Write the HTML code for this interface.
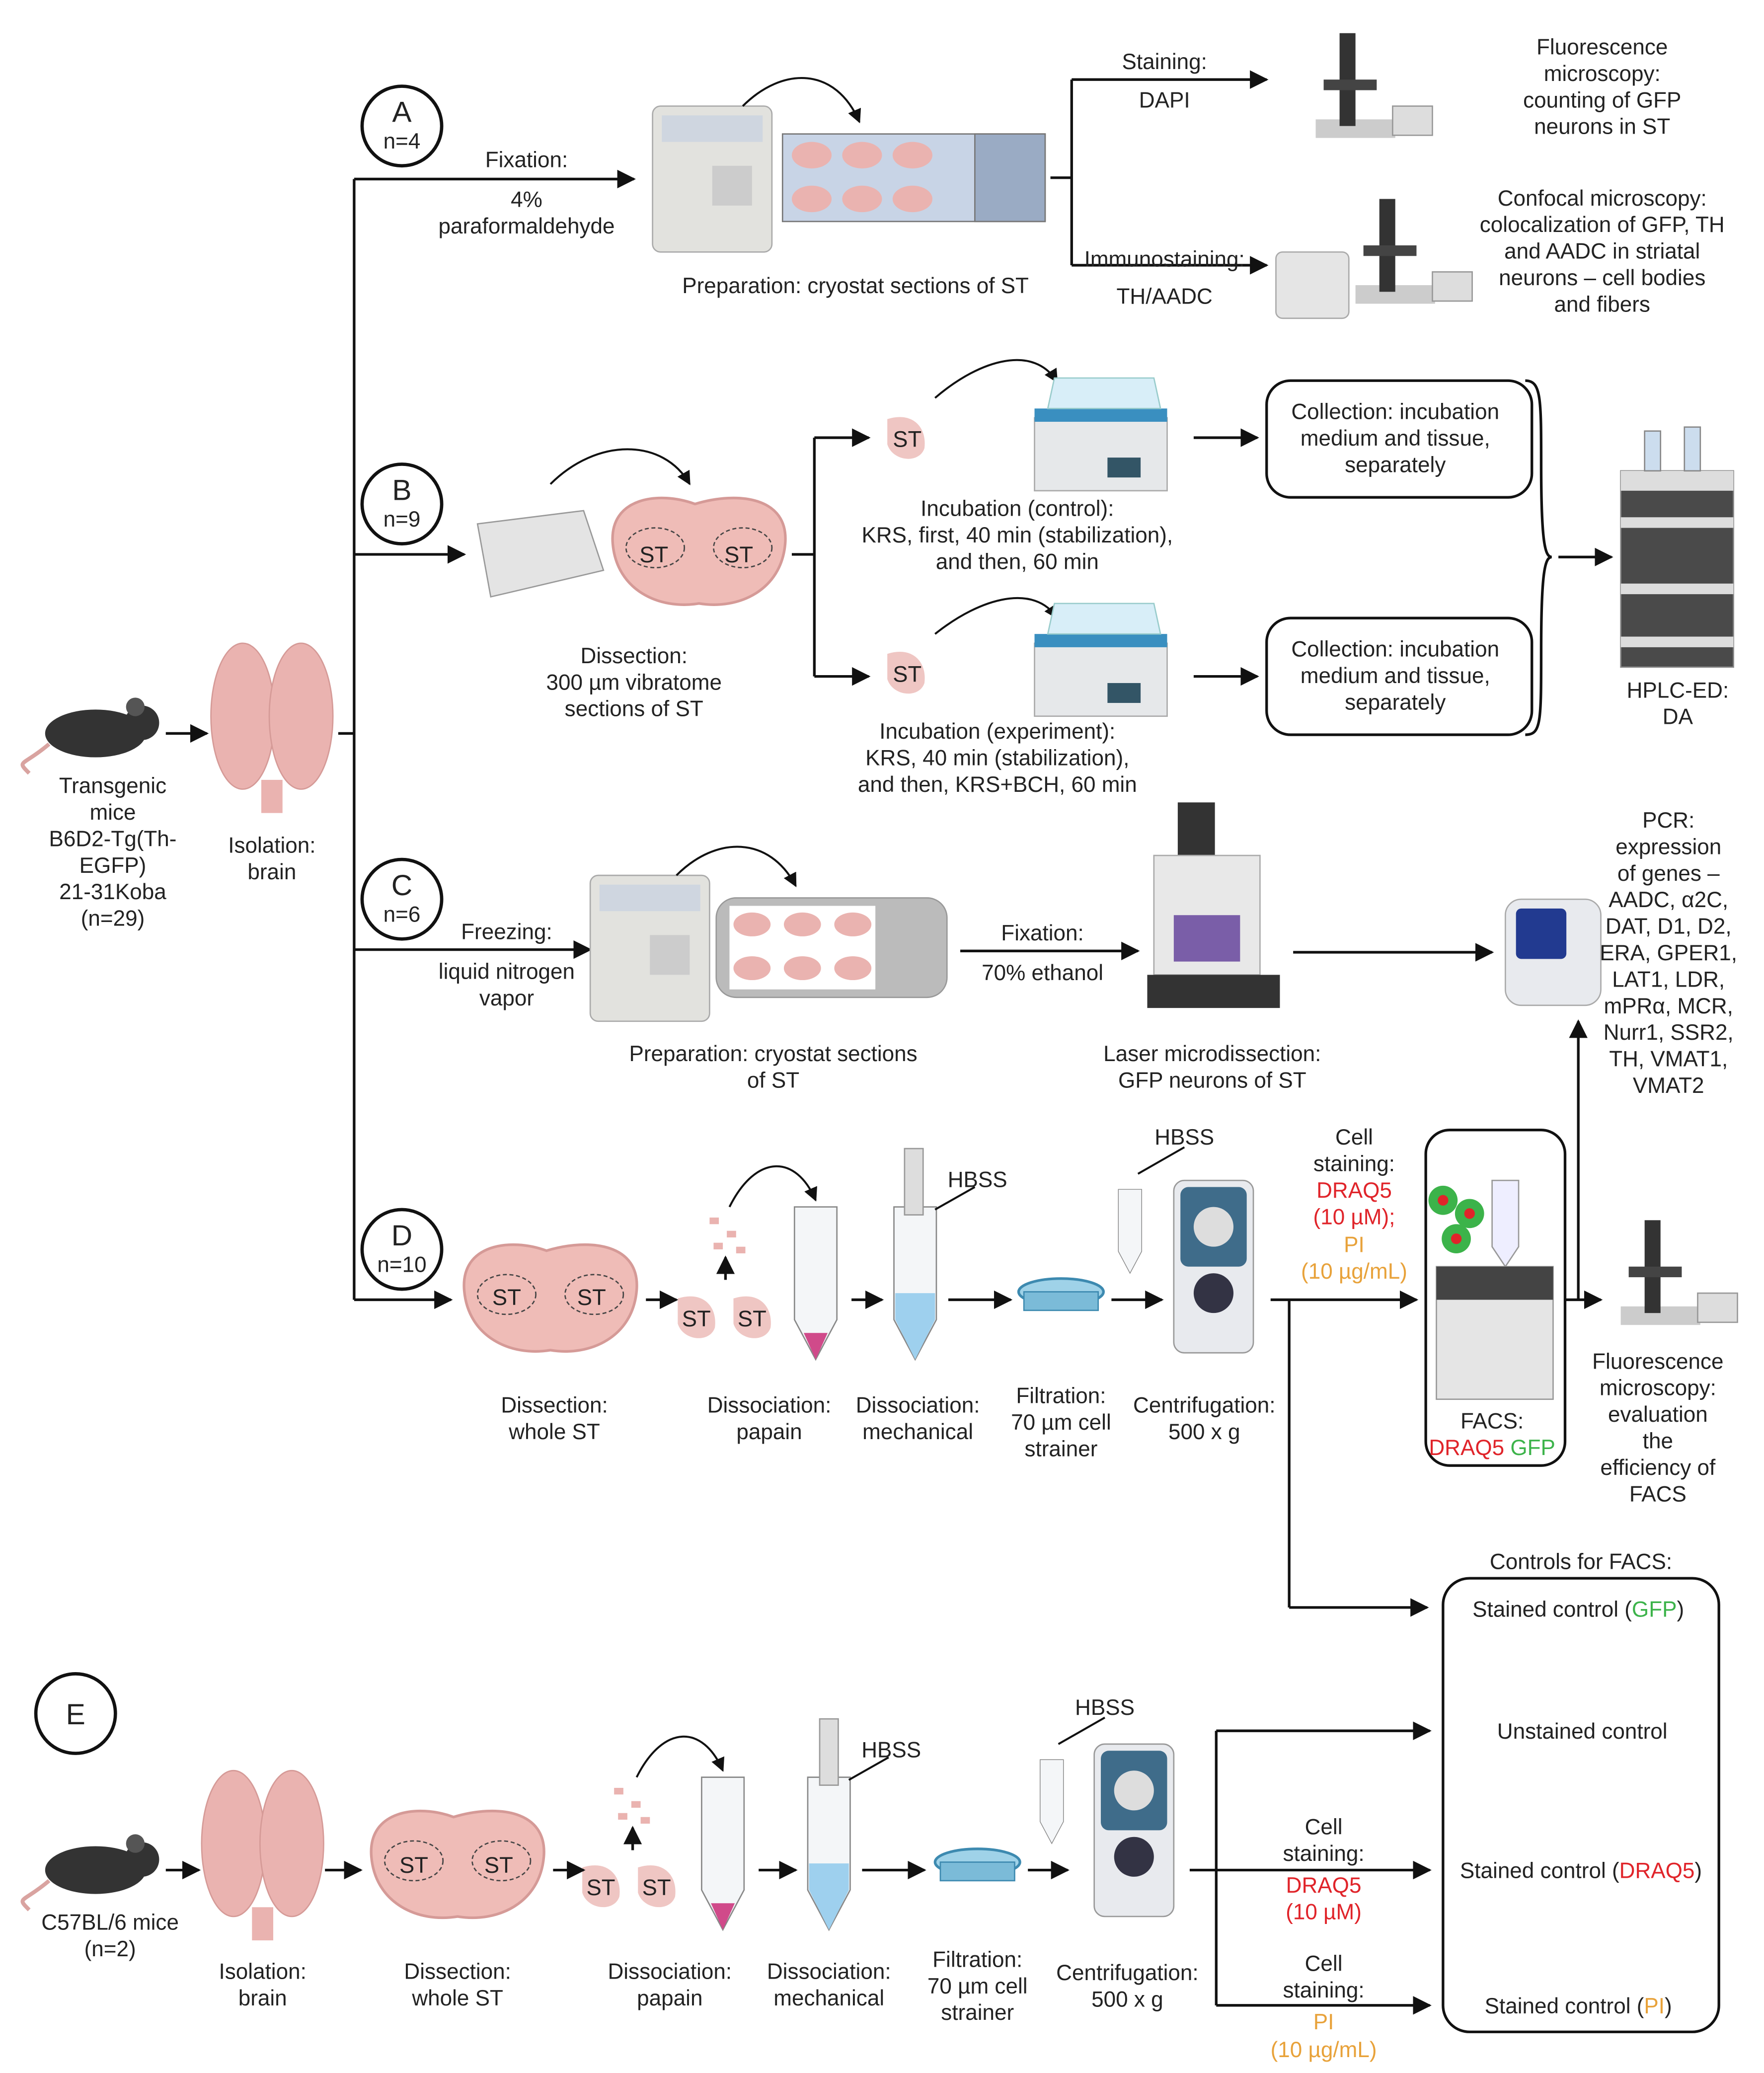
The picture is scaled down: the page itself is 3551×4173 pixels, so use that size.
<!DOCTYPE html>
<html><head><meta charset="utf-8"><style>
html,body{margin:0;padding:0;background:#fff}
svg{display:block}
text{font-family:"Liberation Sans",sans-serif;font-size:16.5px;fill:#222;text-anchor:middle}
.st{font-size:17px}
</style></head><body>
<svg width="3551" height="4173" viewBox="0 0 1330 1563" xmlns="http://www.w3.org/2000/svg">
<defs>
<marker id="a" viewBox="0 0 10 10" refX="9" refY="5" markerWidth="7" markerHeight="7" orient="auto"><path d="M0,0L10,5L0,10z" fill="#111"/></marker>
<g id="brain"><ellipse cx="-22" cy="0" rx="24" ry="55" fill="#eab3b0" stroke="#d59a97"/><ellipse cx="22" cy="0" rx="24" ry="55" fill="#eab3b0" stroke="#d59a97"/><rect x="-8" y="48" width="16" height="25" fill="#eab3b0"/></g>
<g id="slice"><path d="M-65,-5C-68,-40-30,-45-3,-35C30,-45 68,-40 65,-5C62,30 30,45 0,40C-30,45-62,30-65,-5z" fill="#efbcb7" stroke="#d59a97" stroke-width="2"/><ellipse cx="-33" cy="-2" rx="22" ry="15" fill="none" stroke="#444" stroke-dasharray="3,2"/><ellipse cx="33" cy="-2" rx="22" ry="15" fill="none" stroke="#444" stroke-dasharray="3,2"/></g>
<g id="mouse"><ellipse cx="0" cy="0" rx="38" ry="18" fill="#333"/><circle cx="35" cy="-8" r="13" fill="#333"/><circle cx="30" cy="-20" r="7" fill="#555"/><path d="M-35,8 C-55,25 -60,20 -50,30" stroke="#d9a3a0" stroke-width="3" fill="none"/></g>
<g id="blob"><path d="M-14,-14 C5,-20 16,-8 14,8 C10,20 -10,18 -14,5z" fill="#efc6c3"/></g>
<g id="tube"><path d="M-16,-55 L16,-55 L16,30 L0,60 L-16,30z" fill="#f4f6f8" stroke="#888"/></g>
<g id="centri"><rect x="-30" y="-70" width="60" height="130" rx="8" fill="#e8eaee" stroke="#999"/><rect x="-25" y="-65" width="50" height="60" rx="6" fill="#3f6c8a"/><circle cx="0" cy="-35" r="15" fill="#ddd"/><circle cx="0" cy="15" r="15" fill="#334" /></g>
<g id="filter"><ellipse cx="0" cy="-6" rx="32" ry="10" fill="#9fd2e8" stroke="#3d8ab0" stroke-width="2"/><rect x="-28" y="-6" width="56" height="14" fill="#7bbbd8" stroke="#3d8ab0"/></g>
<g id="micro"><rect x="-28" y="20" width="60" height="14" fill="#ccc"/><rect x="-10" y="-45" width="12" height="70" fill="#333"/><rect x="-22" y="-10" width="40" height="8" fill="#444"/><rect x="30" y="10" width="30" height="22" fill="#ddd" stroke="#999"/></g>
<g id="bath"><rect x="-50" y="-15" width="100" height="55" fill="#e6e8ea" stroke="#aaa"/><rect x="-50" y="-22" width="100" height="10" fill="#3a8fc0"/><path d="M-40,-22 L-35,-45 L40,-45 L45,-22z" fill="#d8eef8" stroke="#9cc"/><rect x="5" y="15" width="25" height="15" fill="#356"/></g>
<g id="cryo"><rect x="-45" y="-55" width="90" height="110" rx="6" fill="#e2e2de" stroke="#aaa"/><rect x="-38" y="-48" width="76" height="20" fill="#cfd6e0"/><rect x="0" y="-10" width="30" height="30" fill="#ccc"/></g>
</defs>

<!-- Left mouse / brain -->
<use href="#mouse" x="72" y="553"/>
<line x1="125" y1="553" x2="156" y2="553" stroke="#111" stroke-width="2" marker-end="url(#a)"/>
<use href="#brain" x="205" y="540"/>
<text x="85" y="598">Transgenic</text><text x="85" y="618">mice</text><text x="85" y="638">B6D2-Tg(Th-</text><text x="85" y="658">EGFP)</text><text x="85" y="678">21-31Koba</text><text x="85" y="698">(n=29)</text>
<text x="205" y="643">Isolation:</text><text x="205" y="663">brain</text>

<g stroke="#111" stroke-width="2" fill="none">
<line x1="255" y1="553" x2="267" y2="553"/>
<line x1="267" y1="135" x2="267" y2="980"/>
<line x1="267" y1="135" x2="478" y2="135" marker-end="url(#a)"/>
<line x1="267" y1="418" x2="350" y2="418" marker-end="url(#a)"/>
<line x1="267" y1="716" x2="445" y2="716" marker-end="url(#a)"/>
<line x1="267" y1="980" x2="340" y2="980" marker-end="url(#a)"/>
</g>
<g fill="#fff" stroke="#111" stroke-width="2.5">
<circle cx="303" cy="95" r="30"/><circle cx="303" cy="380" r="30"/><circle cx="303" cy="678" r="30"/><circle cx="303" cy="942" r="30"/><circle cx="57" cy="1292" r="30"/>
</g>
<text x="303" y="92" style="font-size:22px">A</text><text x="303" y="112">n=4</text>
<text x="303" y="377" style="font-size:22px">B</text><text x="303" y="397">n=9</text>
<text x="303" y="675" style="font-size:22px">C</text><text x="303" y="695">n=6</text>
<text x="303" y="939" style="font-size:22px">D</text><text x="303" y="959">n=10</text>
<text x="57" y="1300" style="font-size:22px">E</text>

<!-- A -->
<text x="397" y="126">Fixation:</text><text x="397" y="156">4%</text><text x="397" y="176">paraformaldehyde</text>
<use href="#cryo" x="537" y="135"/>
<rect x="590" y="101" width="198" height="66" fill="#c8d4e6" stroke="#777"/><rect x="735" y="101" width="53" height="66" fill="#9aabc4" stroke="#777"/>
<g fill="#eab3b0"><ellipse cx="612" cy="117" rx="15" ry="10"/><ellipse cx="650" cy="117" rx="15" ry="10"/><ellipse cx="688" cy="117" rx="15" ry="10"/><ellipse cx="612" cy="150" rx="15" ry="10"/><ellipse cx="650" cy="150" rx="15" ry="10"/><ellipse cx="688" cy="150" rx="15" ry="10"/></g>
<path d="M560,80 C590,50 630,50 648,92" stroke="#111" stroke-width="1.5" fill="none" marker-end="url(#a)"/>
<text x="645" y="221">Preparation: cryostat sections of ST</text>
<g stroke="#111" stroke-width="2" fill="none">
<line x1="792" y1="134" x2="808" y2="134"/><line x1="808" y1="60" x2="808" y2="200"/>
<line x1="808" y1="60" x2="955" y2="60" marker-end="url(#a)"/><line x1="808" y1="200" x2="955" y2="200" marker-end="url(#a)"/>
</g>
<text x="878" y="52">Staining:</text><text x="878" y="81">DAPI</text><text x="878" y="201">Immunostaining:</text><text x="878" y="229">TH/AADC</text>
<use href="#micro" x="1020" y="70"/>
<rect x="962" y="190" width="55" height="50" rx="5" fill="#e5e5e5" stroke="#aaa"/><use href="#micro" x="1050" y="195"/>
<text x="1208" y="41">Fluorescence</text><text x="1208" y="61">microscopy:</text><text x="1208" y="81">counting of GFP</text><text x="1208" y="101">neurons in ST</text>
<text x="1208" y="155">Confocal microscopy:</text><text x="1208" y="175">colocalization of GFP, TH</text><text x="1208" y="195">and AADC in striatal</text><text x="1208" y="215">neurons – cell bodies</text><text x="1208" y="235">and fibers</text>

<!-- B -->
<path d="M360,395 L440,385 L455,430 L370,450z" fill="#e4e4e4" stroke="#999"/>
<path d="M415,365 C450,330 500,330 520,365" stroke="#111" stroke-width="1.5" fill="none" marker-end="url(#a)"/>
<use href="#slice" x="527" y="415"/>
<text x="493" y="424" class="st">ST</text><text x="557" y="424" class="st">ST</text>
<text x="478" y="500">Dissection:</text><text x="478" y="520">300 µm vibratome</text><text x="478" y="540">sections of ST</text>
<g stroke="#111" stroke-width="2" fill="none">
<line x1="597" y1="418" x2="614" y2="418"/><line x1="614" y1="330" x2="614" y2="510"/>
<line x1="614" y1="330" x2="655" y2="330" marker-end="url(#a)"/><line x1="614" y1="510" x2="655" y2="510" marker-end="url(#a)"/>
<line x1="900" y1="330" x2="948" y2="330" marker-end="url(#a)"/><line x1="900" y1="510" x2="948" y2="510" marker-end="url(#a)"/>
<line x1="1175" y1="420" x2="1215" y2="420" marker-end="url(#a)"/>
<path d="M705,300 C740,270 780,260 797,288" stroke-width="1.5" marker-end="url(#a)"/>
<path d="M705,478 C740,450 780,440 797,466" stroke-width="1.5" marker-end="url(#a)"/>
<path d="M1150,287 C1162,287 1162,300 1162,350 C1162,410 1165,420 1170,420 C1165,420 1162,430 1162,490 C1162,545 1162,554 1150,554" stroke-width="2"/>
</g>
<use href="#blob" x="683" y="330"/><use href="#blob" x="683" y="507"/>
<text x="684" y="337" class="st">ST</text><text x="684" y="514" class="st">ST</text>
<use href="#bath" x="830" y="330"/><use href="#bath" x="830" y="500"/>
<text x="767" y="389">Incubation (control):</text><text x="767" y="409">KRS, first, 40 min (stabilization),</text><text x="767" y="429">and then, 60 min</text>
<text x="752" y="557">Incubation (experiment):</text><text x="752" y="577">KRS, 40 min (stabilization),</text><text x="752" y="597">and then, KRS+BCH, 60 min</text>
<rect x="955" y="287" width="200" height="88" rx="18" fill="none" stroke="#111" stroke-width="2"/>
<rect x="955" y="466" width="200" height="88" rx="18" fill="none" stroke="#111" stroke-width="2"/>
<text x="1052" y="316">Collection: incubation</text><text x="1052" y="336">medium and tissue,</text><text x="1052" y="356">separately</text>
<text x="1052" y="495">Collection: incubation</text><text x="1052" y="515">medium and tissue,</text><text x="1052" y="535">separately</text>
<rect x="1222" y="355" width="85" height="148" fill="#4a4a4a" stroke="#888"/>
<g fill="#ddd"><rect x="1222" y="355" width="85" height="15"/><rect x="1222" y="390" width="85" height="8"/><rect x="1222" y="440" width="85" height="8"/><rect x="1222" y="480" width="85" height="8"/></g>
<rect x="1240" y="325" width="12" height="30" fill="#cde" stroke="#888"/><rect x="1270" y="322" width="12" height="33" fill="#cde" stroke="#888"/>
<text x="1265" y="526">HPLC-ED:</text><text x="1265" y="546">DA</text>

<!-- C -->
<text x="382" y="708">Freezing:</text><text x="382" y="738">liquid nitrogen</text><text x="382" y="758">vapor</text>
<use href="#cryo" x="490" y="715"/>
<path d="M510,660 C540,630 580,630 600,668" stroke="#111" stroke-width="1.5" fill="none" marker-end="url(#a)"/>
<rect x="540" y="677" width="174" height="75" rx="15" fill="#bbb" stroke="#999"/>
<rect x="550" y="683" width="110" height="63" fill="#fff"/>
<g fill="#eab3b0"><ellipse cx="567" cy="697" rx="14" ry="9"/><ellipse cx="605" cy="697" rx="14" ry="9"/><ellipse cx="643" cy="697" rx="14" ry="9"/><ellipse cx="567" cy="730" rx="14" ry="9"/><ellipse cx="605" cy="730" rx="14" ry="9"/><ellipse cx="643" cy="730" rx="14" ry="9"/></g>
<text x="583" y="800">Preparation: cryostat sections</text><text x="583" y="820">of ST</text>
<line x1="724" y1="717" x2="858" y2="717" stroke="#111" stroke-width="2" marker-end="url(#a)"/>
<text x="786" y="709">Fixation:</text><text x="786" y="739">70% ethanol</text>
<rect x="888" y="605" width="28" height="40" fill="#333"/>
<rect x="870" y="645" width="80" height="90" fill="#e8e8e8" stroke="#aaa"/>
<rect x="885" y="690" width="50" height="35" fill="#7a5ea8"/>
<rect x="865" y="735" width="100" height="25" fill="#333"/>
<text x="914" y="800">Laser microdissection:</text><text x="914" y="820">GFP neurons of ST</text>
<line x1="975" y1="718" x2="1125" y2="718" stroke="#111" stroke-width="2" marker-end="url(#a)"/>
<rect x="1135" y="678" width="72" height="80" rx="12" fill="#e8eaee" stroke="#aaa"/><rect x="1143" y="685" width="38" height="38" rx="4" fill="#223a90"/>
<text x="1258" y="624">PCR:</text><text x="1258" y="644">expression</text><text x="1258" y="664">of genes –</text><text x="1258" y="684">AADC, α2C,</text><text x="1258" y="704">DAT, D1, D2,</text><text x="1258" y="724">ERA, GPER1,</text><text x="1258" y="744">LAT1, LDR,</text><text x="1258" y="764">mPRα, MCR,</text><text x="1258" y="784">Nurr1, SSR2,</text><text x="1258" y="804">TH, VMAT1,</text><text x="1258" y="824">VMAT2</text>

<!-- D -->
<use href="#slice" x="415" y="978"/>
<text x="382" y="984" class="st">ST</text><text x="446" y="984" class="st">ST</text>
<use href="#blob" x="525" y="993"/><use href="#blob" x="567" y="993"/>
<text x="525" y="1000" class="st">ST</text><text x="567" y="1000" class="st">ST</text>
<g fill="#eab3b0"><rect x="535" y="918" width="7" height="5"/><rect x="548" y="928" width="7" height="5"/><rect x="538" y="937" width="7" height="5"/><rect x="555" y="940" width="7" height="5"/></g>
<use href="#tube" x="615" y="965"/><path d="M606,1005 L624,1005 L615,1025z" fill="#d04a8a"/>
<use href="#tube" x="690" y="965"/><path d="M675,975 L705,975 L705,995 L690,1025 L675,995z" fill="#9ed0ee"/>
<rect x="682" y="866" width="14" height="50" fill="#ddd" stroke="#999"/>
<use href="#filter" x="800" y="980"/>
<use href="#tube" x="852" y="927" transform="translate(852 927) scale(0.55) translate(-852 -927)"/>
<use href="#centri" x="915" y="960"/>
<g stroke="#111" stroke-width="2" fill="none">
<line x1="487" y1="980" x2="510" y2="980" marker-end="url(#a)"/>
<line x1="642" y1="980" x2="665" y2="980" marker-end="url(#a)"/>
<line x1="715" y1="980" x2="762" y2="980" marker-end="url(#a)"/>
<line x1="838" y1="980" x2="876" y2="980" marker-end="url(#a)"/>
<line x1="958" y1="980" x2="1068" y2="980" marker-end="url(#a)"/>
<line x1="1180" y1="980" x2="1207" y2="980" marker-end="url(#a)"/>
<line x1="1190" y1="980" x2="1190" y2="770" marker-end="url(#a)"/>
<line x1="972" y1="980" x2="972" y2="1212"/><line x1="972" y1="1212" x2="1076" y2="1212" marker-end="url(#a)"/>
<line x1="547" y1="965" x2="547" y2="948" marker-end="url(#a)"/>
<path d="M550,910 C570,870 600,870 615,905" stroke-width="1.5" marker-end="url(#a)"/>
<line x1="735" y1="895" x2="705" y2="912" stroke-width="1.5"/>
<line x1="893" y1="865" x2="858" y2="885" stroke-width="1.5"/>
</g>
<text x="737" y="895">HBSS</text><text x="893" y="863">HBSS</text>
<text x="418" y="1065">Dissection:</text><text x="418" y="1085">whole ST</text>
<text x="580" y="1065">Dissociation:</text><text x="580" y="1085">papain</text>
<text x="692" y="1065">Dissociation:</text><text x="692" y="1085">mechanical</text>
<text x="800" y="1058">Filtration:</text><text x="800" y="1078">70 µm cell</text><text x="800" y="1098">strainer</text>
<text x="908" y="1065">Centrifugation:</text><text x="908" y="1085">500 x g</text>
<text x="1021" y="863">Cell</text><text x="1021" y="883">staining:</text>
<text x="1021" y="903" style="fill:#e0242a">DRAQ5</text><text x="1021" y="923" style="fill:#e0242a">(10 µM);</text>
<text x="1021" y="944" style="fill:#e8a23a">PI</text><text x="1021" y="964" style="fill:#e8a23a">(10 µg/mL)</text>
<rect x="1075" y="852" width="105" height="253" rx="18" fill="none" stroke="#111" stroke-width="2"/>
<g><circle cx="1088" cy="905" r="11" fill="#3cb34a"/><circle cx="1088" cy="905" r="4" fill="#e0242a"/><circle cx="1108" cy="915" r="11" fill="#3cb34a"/><circle cx="1108" cy="915" r="4" fill="#e0242a"/><circle cx="1098" cy="934" r="11" fill="#3cb34a"/><circle cx="1098" cy="934" r="4" fill="#e0242a"/></g>
<path d="M1125,890 L1145,890 L1145,940 L1135,955 L1125,940z" fill="#eef" stroke="#999"/>
<rect x="1083" y="955" width="88" height="100" fill="#e5e5e5" stroke="#999"/><rect x="1083" y="955" width="88" height="25" fill="#444"/>
<text x="1125" y="1077">FACS:</text>
<text x="1125" y="1097"><tspan style="fill:#e0242a">DRAQ5</tspan> <tspan style="fill:#3cb34a">GFP</tspan></text>
<use href="#micro" x="1250" y="965"/>
<text x="1250" y="1032">Fluorescence</text><text x="1250" y="1052">microscopy:</text><text x="1250" y="1072">evaluation</text><text x="1250" y="1092">the</text><text x="1250" y="1112">efficiency of</text><text x="1250" y="1132">FACS</text>

<!-- Controls -->
<text x="1192" y="1183">Controls for FACS:</text>
<rect x="1088" y="1190" width="208" height="342" rx="20" fill="none" stroke="#111" stroke-width="2"/>
<text x="1190" y="1219">Stained control (<tspan style="fill:#3cb34a">GFP</tspan>)</text>
<text x="1193" y="1311">Unstained control</text>
<text x="1192" y="1416">Stained control (<tspan style="fill:#e0242a">DRAQ5</tspan>)</text>
<text x="1190" y="1518">Stained control (<tspan style="fill:#e8a23a">PI</tspan>)</text>

<!-- E -->
<use href="#mouse" x="72" y="1410"/>
<text x="83" y="1455">C57BL/6 mice</text><text x="83" y="1475">(n=2)</text>
<use href="#brain" x="198" y="1390"/>
<text x="198" y="1492">Isolation:</text><text x="198" y="1512">brain</text>
<use href="#slice" x="345" y="1405"/>
<text x="312" y="1412" class="st">ST</text><text x="376" y="1412" class="st">ST</text>
<text x="345" y="1492">Dissection:</text><text x="345" y="1512">whole ST</text>
<use href="#blob" x="453" y="1422"/><use href="#blob" x="495" y="1422"/>
<text x="453" y="1429" class="st">ST</text><text x="495" y="1429" class="st">ST</text>
<g fill="#eab3b0"><rect x="463" y="1348" width="7" height="5"/><rect x="476" y="1358" width="7" height="5"/><rect x="466" y="1367" width="7" height="5"/><rect x="483" y="1370" width="7" height="5"/></g>
<use href="#tube" x="545" y="1395"/><path d="M536,1435 L554,1435 L545,1455z" fill="#d04a8a"/>
<use href="#tube" x="625" y="1395"/><path d="M610,1405 L640,1405 L640,1425 L625,1455 L610,1425z" fill="#9ed0ee"/>
<rect x="618" y="1296" width="14" height="50" fill="#ddd" stroke="#999"/>
<use href="#filter" x="737" y="1410"/>
<use href="#tube" x="793" y="1357" transform="translate(793 1357) scale(0.55) translate(-793 -1357)"/>
<use href="#centri" x="855" y="1385"/>
<g stroke="#111" stroke-width="2" fill="none">
<line x1="125" y1="1410" x2="150" y2="1410" marker-end="url(#a)"/>
<line x1="245" y1="1410" x2="272" y2="1410" marker-end="url(#a)"/>
<line x1="417" y1="1410" x2="440" y2="1410" marker-end="url(#a)"/>
<line x1="572" y1="1410" x2="600" y2="1410" marker-end="url(#a)"/>
<line x1="650" y1="1410" x2="697" y2="1410" marker-end="url(#a)"/>
<line x1="775" y1="1410" x2="805" y2="1410" marker-end="url(#a)"/>
<line x1="897" y1="1410" x2="917" y2="1410"/>
<line x1="917" y1="1305" x2="917" y2="1512"/>
<line x1="917" y1="1305" x2="1078" y2="1305" marker-end="url(#a)"/>
<line x1="917" y1="1410" x2="1078" y2="1410" marker-end="url(#a)"/>
<line x1="917" y1="1512" x2="1078" y2="1512" marker-end="url(#a)"/>
<line x1="477" y1="1395" x2="477" y2="1378" marker-end="url(#a)"/>
<path d="M480,1340 C500,1300 530,1300 545,1335" stroke-width="1.5" marker-end="url(#a)"/>
<line x1="670" y1="1325" x2="640" y2="1342" stroke-width="1.5"/>
<line x1="833" y1="1295" x2="798" y2="1315" stroke-width="1.5"/>
</g>
<text x="672" y="1325">HBSS</text><text x="833" y="1293">HBSS</text>
<text x="505" y="1492">Dissociation:</text><text x="505" y="1512">papain</text>
<text x="625" y="1492">Dissociation:</text><text x="625" y="1512">mechanical</text>
<text x="737" y="1483">Filtration:</text><text x="737" y="1503">70 µm cell</text><text x="737" y="1523">strainer</text>
<text x="850" y="1493">Centrifugation:</text><text x="850" y="1513">500 x g</text>
<text x="998" y="1383">Cell</text><text x="998" y="1403">staining:</text>
<text x="998" y="1427" style="fill:#e0242a">DRAQ5</text><text x="998" y="1447" style="fill:#e0242a">(10 µM)</text>
<text x="998" y="1486">Cell</text><text x="998" y="1506">staining:</text>
<text x="998" y="1530" style="fill:#e8a23a">PI</text><text x="998" y="1551" style="fill:#e8a23a">(10 µg/mL)</text>
</svg>
</body></html>
